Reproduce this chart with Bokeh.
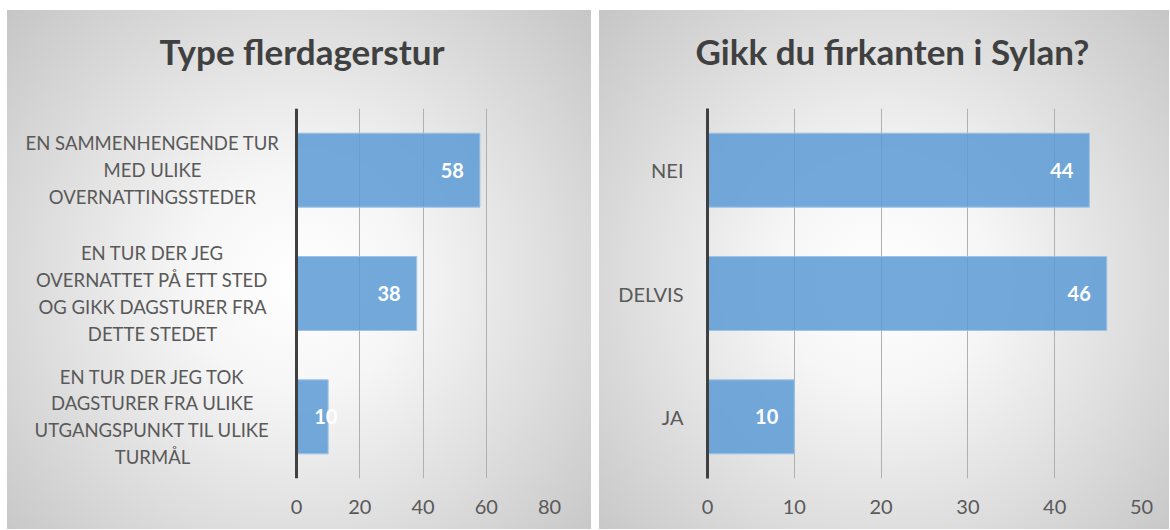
from bokeh.plotting import figure
from bokeh.models import ColumnDataSource, FactorRange, Range1d, FixedTicker, Spacer, Title
from bokeh.layouts import row
from bokeh.embed import file_html
from bokeh.resources import INLINE
from bokeh.core.properties import value

# ---- data ----
title_left = "Type flerdagerstur"
cats_left = [
    "EN SAMMENHENGENDE TUR\nMED ULIKE\nOVERNATTINGSSTEDER",
    "EN TUR DER JEG\nOVERNATTET PÅ ETT STED\nOG GIKK DAGSTURER FRA\nDETTE STEDET",
    "EN TUR DER JEG TOK\nDAGSTURER FRA ULIKE\nUTGANGSPUNKT TIL ULIKE\nTURMÅL",
]
vals_left = [58, 38, 10]
ticks_left = [0, 20, 40, 60, 80]

title_right = "Gikk du firkanten i Sylan?"
cats_right = ["NEI", "DELVIS", "JA"]
vals_right = [44, 46, 10]
ticks_right = [0, 10, 20, 30, 40, 50]

FONT = "Lato"
BG = "radial-gradient(circle farthest-corner at 50% 52%, #ffffff 0%, #f6f6f6 28%, #c6c6c6 100%)"
H = 519


def make(title, cats, vals, ticks, width, label_px, frame_px, border_right,
         title_offset, lab_align, lab_offset, centered_labels):
    # centered_labels: the category labels live inside the frame, left of x=0
    if centered_labels:
        x0 = -ticks[-1] * label_px / frame_px
        border_left = 0
    else:
        x0 = ticks[0]
        border_left = label_px
    p = figure(
        width=width, height=H,
        y_range=FactorRange(factors=list(reversed(cats)), range_padding=0),
        x_range=Range1d(x0, ticks[-1]),
        output_backend="svg", toolbar_location=None,
        min_border_left=border_left, min_border_right=border_right,
        min_border_top=98, min_border_bottom=H - 98 - 370,
    )
    p.styles = {"background": BG}
    p.background_fill_alpha = 0
    p.border_fill_alpha = 0
    p.outline_line_color = None

    # gap between the title and the plot area
    p.add_layout(Title(text=" ", text_font_size="1px", standoff=34), "above")

    p.title.text = title
    p.title.text_font = FONT
    p.title.text_font_size = "35px"
    p.title.text_font_style = "bold"
    p.title.text_color = "#404040"
    p.title.align = "left"
    p.title.offset = title_offset
    p.title.vertical_align = "bottom"
    p.title.standoff = 0

    src = ColumnDataSource(dict(
        cat=cats, val=vals, zero=[0] * len(vals), txt=[str(v) for v in vals],
        align=lab_align, xoff=lab_offset,
    ))
    p.hbar(y="cat", right="val", left=0, height=0.6, source=src,
           fill_color="#5B9BD5", fill_alpha=0.85,
           line_color="#9DC3E6", line_width=1)
    p.text(x="val", y="cat", text="txt", source=src,
           text_align="align", x_offset="xoff", text_baseline="middle",
           text_font=value(FONT), text_font_size="20px",
           text_font_style="bold", text_color="white")

    p.xaxis.ticker = FixedTicker(ticks=ticks)
    p.xaxis.axis_line_color = None
    p.xaxis.major_tick_line_color = None
    p.xaxis.minor_tick_line_color = None
    p.xaxis.major_label_text_font = FONT
    p.xaxis.major_label_text_font_size = "20px"
    p.xaxis.major_label_text_color = "#595959"
    p.xaxis.major_label_standoff = 15

    p.yaxis.axis_line_color = "#404040"
    p.yaxis.axis_line_width = 3
    p.yaxis.major_tick_line_color = None
    p.yaxis.minor_tick_line_color = None
    p.yaxis.major_label_text_font = FONT
    p.yaxis.major_label_text_font_size = "20px"
    p.yaxis.major_label_text_color = "#595959"
    p.yaxis.major_label_standoff = 18

    if centered_labels:
        p.yaxis.fixed_location = 0
        p.yaxis.major_label_text_font_size = "0px"
        p.yaxis.major_label_text_color = None
        p.yaxis.major_label_standoff = 0
        p.text(x="zero", y="cat", text="cat", source=src,
               x_offset=-144, text_align="center", text_baseline="middle",
               text_font=value(FONT), text_font_size="18.5px",
               text_color="#595959", text_line_height=1.22)

    p.xgrid.grid_line_color = "#b0b0b0"
    p.xgrid.grid_line_width = 1
    p.ygrid.grid_line_color = None
    return p


p1 = make(title_left, cats_left, vals_left, ticks_left,
          584, 289, 253, 42, 152,
          ["right", "right", "left"], [-16, -16, -14], True)
p2 = make(title_right, cats_right, vals_right, ticks_right,
          570, 108, 434, 28, -12,
          ["right", "right", "right"], [-16, -16, -16], False)

layout = row(p1, Spacer(width=8, height=H), p2)
layout.styles = {"margin-left": "7px", "margin-top": "10px"}

open("out.html", "w").write(file_html(layout, INLINE))
